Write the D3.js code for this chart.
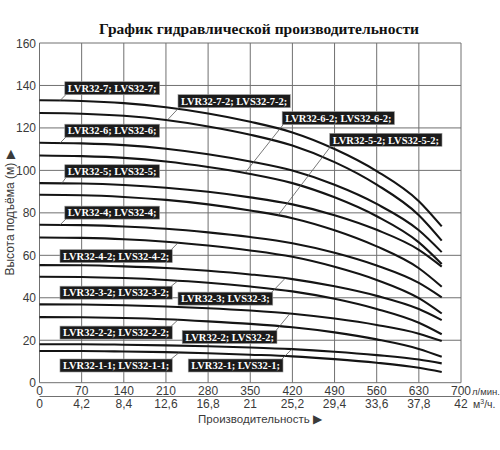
<!DOCTYPE html>
<meta charset="utf-8">
<html>
<head>
<script src="https://cdn.jsdelivr.net/npm/d3@7"></script>
<style>
	body { margin: 0; background: #fff; }
</style>
</head>
<body>
<svg id="chart" width="500" height="450"></svg>
<script>
// расход, л/мин (точки)
var flow = [0, 70, 140, 210, 280, 350, 420, 490, 560, 630, 668];

var models = ["32-7", "32-7-2", "32-6", "32-6-2", "32-5", "32-5-2", "32-4",
	"32-4-2", "32-3", "32-3-2", "32-2", "32-2-2", "32-1", "32-1-1"];

// напор, м
var h7   = [133, 132.7, 131.7, 129.7, 126.8, 122.9, 117.9, 110.1, 99.7, 85.5, 73.6];
var h7_2 = [127, 126.7, 125.7, 123.7, 120.7, 116.8, 111.7, 103.9, 93.3, 78.9, 66.9];
var h6   = [113, 112.7, 111.9, 110.2, 107.6, 104.2, 99.9, 93.2, 84.2, 71.8, 61.5];
var h6_2 = [107, 106.7, 105.9, 104.2, 101.6, 98.3, 94.0, 87.3, 78.4, 66.1, 55.9];
var h5   = [94, 93.8, 93.1, 91.8, 89.9, 87.3, 84.0, 78.9, 72.0, 62.6, 54.7];
var h5_2 = [88.5, 88.3, 87.5, 86.1, 84.0, 81.1, 77.5, 71.8, 64.2, 53.9, 45.2];
var h4   = [74.4, 74.2, 73.6, 72.5, 70.8, 68.6, 65.7, 61.2, 55.2, 47.0, 40.2];
var h4_2 = [68.4, 68.2, 67.6, 66.4, 64.6, 62.3, 59.3, 54.6, 48.4, 39.8, 32.6];
var h3   = [55.4, 55.3, 54.8, 54.0, 52.7, 51.0, 48.8, 45.4, 40.9, 34.7, 29.5];
var h3_2 = [49.9, 49.8, 49.3, 48.4, 47.1, 45.3, 43.0, 39.5, 34.7, 28.2, 22.8];
var h2   = [36.9, 36.8, 36.5, 35.9, 35.1, 34.0, 32.5, 30.2, 27.2, 23.1, 19.6];
var h2_2 = [30.9, 30.8, 30.5, 29.9, 28.9, 27.7, 26.1, 23.7, 20.4, 15.9, 12.2];
var h1   = [18.1, 18.1, 17.9, 17.6, 17.2, 16.6, 15.8, 14.6, 13.0, 10.9, 9.1];
var h1_1 = [14.9, 14.9, 14.7, 14.4, 13.9, 13.2, 12.4, 11.1, 9.4, 7.0, 5.0];

var heads = [h7, h7_2, h6, h6_2, h5, h5_2, h4, h4_2, h3, h3_2, h2, h2_2, h1, h1_1];

var headTicks = [0, 20, 40, 60, 80, 100, 120, 140, 160];
var flowTicks = [0, 70, 140, 210, 280, 350, 420, 490, 560, 630, 700];
var cubeTicks = ["0", "4,2", "8,4", "12,6", "16,8", "21", "25,2", "29,4", "33,6", "37,8", "42"];

// подписи: модель, левый край и центр плашки (л/мин, м), точка выноски на кривой (л/мин)
var tags = [
	{ m: 0,  q: 42,  h: 138.7, tq: 34,  side: "bl" },
	{ m: 1,  q: 230, h: 132.6, tq: 212, side: "bl" },
	{ m: 2,  q: 42,  h: 118.7, tq: 34,  side: "bl" },
	{ m: 3,  q: 403, h: 124.6, tq: 341, side: "bl" },
	{ m: 5,  q: 482, h: 114.4, tq: 396, side: "bl" },
	{ m: 4,  q: 42,  h: 99.6,  tq: 37,  side: "bl" },
	{ m: 6,  q: 42,  h: 80.1,  tq: 34,  side: "bl" },
	{ m: 7,  q: 34,  h: 59.6,  tq: 230, side: "tr" },
	{ m: 9,  q: 34,  h: 42.4,  tq: 230, side: "tr" },
	{ m: 8,  q: 230, h: 39.6,  tq: 408, side: "tr" },
	{ m: 11, q: 34,  h: 23.6,  tq: 230, side: "tr" },
	{ m: 10, q: 237, h: 21.5,  tq: 416, side: "tr" },
	{ m: 13, q: 34,  h: 8.1,   tq: 232, side: "tr" },
	{ m: 12, q: 247, h: 8.1,   tq: 419, side: "tr" }
];

var svg = d3.select("#chart");

var x = d3.scaleLinear().domain([0, 700]).range([39.5, 461]);
var y = d3.scaleLinear().domain([0, 160]).range([382.7, 43]);

var grid = "#707070";

// сетка
svg.append("g")
	.selectAll("line.vg")
	.data(flowTicks)
	.enter()
	.append("line")
	.attr("x1", function (d) { return x(d); })
	.attr("x2", function (d) { return x(d); })
	.attr("y1", y(0))
	.attr("y2", y(160))
	.attr("stroke", grid)
	.attr("stroke-width", 1);

svg.append("g")
	.selectAll("line.hg")
	.data(headTicks)
	.enter()
	.append("line")
	.attr("x1", x(0))
	.attr("x2", x(700))
	.attr("y1", function (d) { return y(d); })
	.attr("y2", function (d) { return y(d); })
	.attr("stroke", grid)
	.attr("stroke-width", 1);

// вторая ось (м3/ч)
svg.append("line")
	.attr("x1", x(0)).attr("x2", x(700))
	.attr("y1", 396.5).attr("y2", 396.5)
	.attr("stroke", grid)
	.attr("stroke-width", 1);

// подписи осей
var sans = "'Liberation Sans', Arial, sans-serif";
var serif = "'Liberation Serif', 'Times New Roman', serif";

svg.append("g")
	.selectAll("text")
	.data(headTicks)
	.enter()
	.append("text")
	.attr("x", 36)
	.attr("y", function (d) { return y(d) + 4.5; })
	.attr("text-anchor", "end")
	.attr("font-family", sans)
	.attr("font-size", "12px")
	.attr("fill", "#3a3a3a")
	.text(function (d) { return d; });

svg.append("g")
	.selectAll("text")
	.data(flowTicks)
	.enter()
	.append("text")
	.attr("x", function (d) { return x(d); })
	.attr("y", 394.5)
	.attr("text-anchor", "middle")
	.attr("font-family", sans)
	.attr("font-size", "12px")
	.attr("fill", "#3a3a3a")
	.text(function (d) { return d; });

svg.append("g")
	.selectAll("text")
	.data(cubeTicks)
	.enter()
	.append("text")
	.attr("x", function (d, i) { return x(flowTicks[i]); })
	.attr("y", 408)
	.attr("text-anchor", "middle")
	.attr("font-family", sans)
	.attr("font-size", "12px")
	.attr("fill", "#3a3a3a")
	.text(function (d) { return d; });

svg.append("text")
	.attr("x", 472).attr("y", 394.5)
	.attr("font-family", sans).attr("font-size", "9.5px").attr("fill", "#3a3a3a")
	.text("л/мин.");

svg.append("text")
	.attr("x", 473).attr("y", 408)
	.attr("font-family", sans).attr("font-size", "10.5px").attr("fill", "#3a3a3a")
	.html("м<tspan dy='-4' font-size='7px'>3</tspan><tspan dy='4'>/ч.</tspan>");

svg.append("text")
	.attr("x", 260).attr("y", 422.5)
	.attr("text-anchor", "middle")
	.attr("font-family", sans).attr("font-size", "11.5px").attr("fill", "#3a3a3a")
	.text("Производительность \u25B6");

svg.append("text")
	.attr("transform", "translate(14,213) rotate(-90)")
	.attr("text-anchor", "middle")
	.attr("font-family", sans).attr("font-size", "12px").attr("fill", "#3a3a3a")
	.text("Высота подъёма (м) \u25B6");

svg.append("text")
	.attr("x", 259).attr("y", 34)
	.attr("text-anchor", "middle")
	.attr("font-family", serif)
	.attr("font-weight", "bold")
	.attr("font-size", "15.5px")
	.attr("fill", "#111")
	.text("График гидравлической производительности");

// кривые
var line = d3.line()
	.x(function (d, i) { return x(flow[i]); })
	.y(function (d) { return y(d); })
	.curve(d3.curveMonotoneX);

svg.append("g")
	.selectAll("path")
	.data(heads)
	.enter()
	.append("path")
	.attr("d", line)
	.attr("fill", "none")
	.attr("stroke", "#141414")
	.attr("stroke-width", 2.1);

function headAt(m, q) {
	var hs = heads[m];
	for (var i = 1; i < flow.length; i++) {
		if (q <= flow[i]) {
			var t = (q - flow[i - 1]) / (flow[i] - flow[i - 1]);
			return hs[i - 1] + t * (hs[i] - hs[i - 1]);
		}
	}
	return hs[hs.length - 1];
}

// плашки с моделями
var bh = 13, pad = 3;
var tg = svg.append("g");

tags.forEach(function (d) {
	var g = tg.append("g");
	var x0 = x(d.q), yc = y(d.h);
	var txt = "LVR" + models[d.m] + "; LVS" + models[d.m] + ";";
	var t = g.append("text")
		.attr("x", x0 + pad)
		.attr("y", yc + 3.8)
		.attr("font-family", serif)
		.attr("font-weight", "bold")
		.attr("font-size", "10.5px")
		.attr("fill", "#fff")
		.text(txt);
	var w = t.node().getComputedTextLength() + 2 * pad;
	g.insert("rect", "text")
		.attr("x", x0)
		.attr("y", yc - bh / 2)
		.attr("width", w)
		.attr("height", bh)
		.attr("fill", "#1b1b1b")
		.attr("stroke", "#9a9a9a")
		.attr("stroke-width", 0.6);
	var sx = d.side == "bl" ? x0 + 1 : x0 + w - 1;
	var sy = d.side == "bl" ? yc + bh / 2 : yc - bh / 2;
	g.append("line")
		.attr("x1", sx).attr("y1", sy)
		.attr("x2", x(d.tq)).attr("y2", y(headAt(d.m, d.tq)))
		.attr("stroke", "#555")
		.attr("stroke-width", 0.8);
});
</script>
</body>
</html>
